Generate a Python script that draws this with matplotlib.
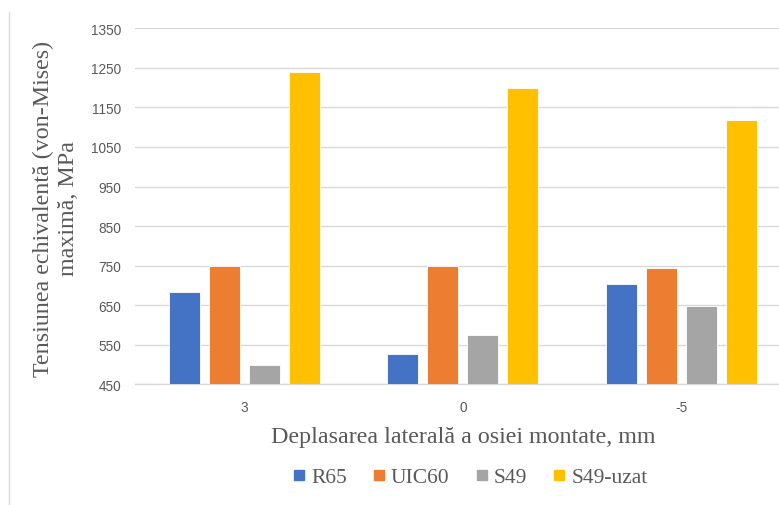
import numpy as np
import matplotlib
matplotlib.use("Agg")
import matplotlib.pyplot as plt
from matplotlib.lines import Line2D

# Data
categories = ["3", "0", "-5"]
series_names = ["R65", "UIC60", "S49", "S49-uzat"]
r65 = [683, 526, 704]
uic60 = [749, 749, 745]
s49 = [500, 575, 649]
s49_uzat = [1240, 1199, 1118]
yticks = [450, 550, 650, 750, 850, 950, 1050, 1150, 1250, 1350]

colors = ["#4472C4", "#ED7D31", "#A5A5A5", "#FFC000"]
values = [r65, uic60, s49, s49_uzat]

W, H = 779, 506
fig = plt.figure(figsize=(W / 100, H / 100), dpi=100)

# Plot area (extends slightly past the right edge of the canvas)
left, right = 135, 790.5
top, bottom = 29.3, 385.3
ax = fig.add_axes([left / W, 1 - bottom / H, (right - left) / W, (bottom - top) / H])

x = np.arange(len(categories))
bar_w = 0.142
step = 0.183
offsets = (np.arange(len(series_names)) - 1.5) * step
for vals, off, c, name in zip(values, offsets, colors, series_names):
    ax.bar(x + off, np.array(vals) - 450, bottom=450, width=bar_w, color=c,
           edgecolor="white", linewidth=0.6, label=name, zorder=3)

ax.set_xlim(-0.5, 2.5)
ax.set_ylim(450, 1350)
ax.set_yticks(yticks)
ax.set_xticks(x)
ax.set_xticklabels(categories)
ax.grid(axis="y", color="#D9D9D9", linewidth=1.0, zorder=0)
for s in ["left", "right", "top"]:
    ax.spines[s].set_visible(False)
ax.spines["bottom"].set_color("#D9D9D9")
ax.spines["bottom"].set_linewidth(1.0)
ax.tick_params(axis="both", length=0, labelsize=9.8, labelcolor="#595959")
ax.tick_params(axis="y", pad=10)
ax.tick_params(axis="x", pad=11)
for lab in ax.get_xticklabels() + ax.get_yticklabels():
    lab.set_fontfamily("Liberation Sans")

serif = "Liberation Serif"
fig.text(463 / W, 1 - 438 / H, "Deplasarea laterală a osiei montate, mm",
         ha="center", va="center", fontsize=17.3, family=serif, color="#595959")
fig.text(56 / W, 1 - 209 / H, "Tensiunea echivalentă (von-Mises)\nmaximă, MPa",
         ha="center", va="center", rotation=90, fontsize=17.3, family=serif,
         color="#595959", linespacing=1.3, multialignment="center")

handles = [Line2D([0], [0], marker="s", linestyle="none", markersize=6.5,
                  markerfacecolor=c, markeredgecolor=c) for c in colors]
fig.legend(handles, series_names, loc="center", bbox_to_anchor=(468 / W, 1 - 478 / H),
           ncol=4, frameon=False, prop={"family": serif, "size": 15.5},
           handletextpad=0.05, columnspacing=1.0, handlelength=1.0,
           labelcolor="#595959")

# Chart frame edge on the left
fig.add_artist(Line2D([8.5 / W, 8.5 / W], [0, 1 - 13 / H], transform=fig.transFigure,
                      color="#D9D9D9", linewidth=1.0))

fig.savefig("out.png", dpi=100)
